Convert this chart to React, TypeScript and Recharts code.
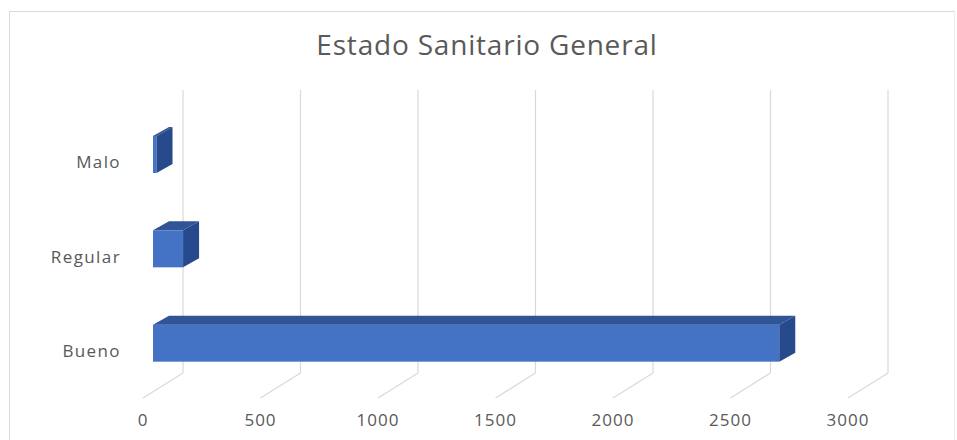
import React from 'react';
import { BarChart, Bar, XAxis, YAxis, CartesianGrid } from 'recharts';

const categories = ['Malo', 'Regular', 'Bueno'];
const values = [15, 128, 2665];
const xTicks = [0, 500, 1000, 1500, 2000, 2500, 3000];

const data = categories.map((name, i) => ({ name, value: values[i] }));

// 3d look: depth offset of the boxes and of the back wall
const DX = 16;
const DY = 9;
const FRONT = '#4472c4';
const TOP = '#2f5597';
const SIDE = '#264a8c';
const GRID = '#d9d9d9';
const TEXT = '#595959';

const Box3D = (props: any) => {
  const { x, y, width, height } = props;
  const w = Math.max(width, 0);
  return (
    <g>
      <rect x={x} y={y} width={w} height={height} fill={FRONT} />
      <polygon
        points={`${x},${y} ${x + DX},${y - DY} ${x + w + DX},${y - DY} ${x + w},${y}`}
        fill={TOP}
      />
      <polygon
        points={`${x + w},${y} ${x + w + DX},${y - DY} ${x + w + DX},${y + height - DY} ${x + w},${y + height}`}
        fill={SIDE}
      />
    </g>
  );
};

// back wall line + diagonal floor line for each value tick
const WallLine = (props: any) => {
  const { x1, y1, y2 } = props;
  const bx = x1 + 30;
  return (
    <g key={props.key}>
      <line x1={bx} y1={y1 - 17} x2={bx} y2={y2 - 17} stroke={GRID} strokeWidth={1.2} />
      <line x1={bx} y1={y2 - 17} x2={x1 - 10} y2={y2 + 8} stroke={GRID} strokeWidth={1.2} />
    </g>
  );
};

const ValueTick = ({ x, y, payload }: any) => (
  <text x={x - 10} y={y} textAnchor="middle" fill={TEXT} fontSize={17} letterSpacing={1}
    fontFamily="'Open Sans', sans-serif">
    {payload.value}
  </text>
);

const CatTick = ({ x, y, payload }: any) => (
  <text x={x} y={y + 14} textAnchor="end" fill={TEXT} fontSize={17} letterSpacing={1.4}
    fontFamily="'Open Sans', sans-serif">
    {payload.value}
  </text>
);

export default function App() {
  return (
    <div style={{ position: 'relative', width: 957, height: 440, background: '#fff', overflow: 'hidden' }}>
      <style>{'body{margin:0}'}</style>
      <div style={{
        position: 'absolute', left: 9, top: 11, width: 944, height: 440,
        borderTop: '1.5px solid #d9d9d9', borderLeft: '1.5px solid #d9d9d9',
        borderRight: '1px solid #eeeeee',
      }} />
      <div style={{
        position: 'absolute', left: 0, top: 25, width: 974, textAlign: 'center',
        fontFamily: "'Open Sans', sans-serif", fontSize: 28, color: TEXT, letterSpacing: 0.8,
      }}>
        Estado Sanitario General
      </div>
      <div style={{ position: 'absolute', left: 0, top: 0 }}>
        <BarChart
          width={957}
          height={440}
          data={data}
          layout="vertical"
          margin={{ top: 107, right: 99, bottom: 10, left: 53 }}
        >
          <CartesianGrid horizontal={false} vertical={WallLine} />
          <XAxis
            type="number"
            domain={[0, 3000]}
            ticks={xTicks}
            axisLine={false}
            tickLine={false}
            tickSize={0}
            tickMargin={36}
            height={40}
            tick={<ValueTick />}
            interval={0}
          />
          <YAxis
            type="category"
            dataKey="name"
            width={100}
            axisLine={false}
            tickLine={false}
            tickSize={0}
            tickMargin={32}
            tick={<CatTick />}
          />
          <Bar dataKey="value" barSize={37} shape={<Box3D />} isAnimationActive={false} />
        </BarChart>
      </div>
    </div>
  );
}
